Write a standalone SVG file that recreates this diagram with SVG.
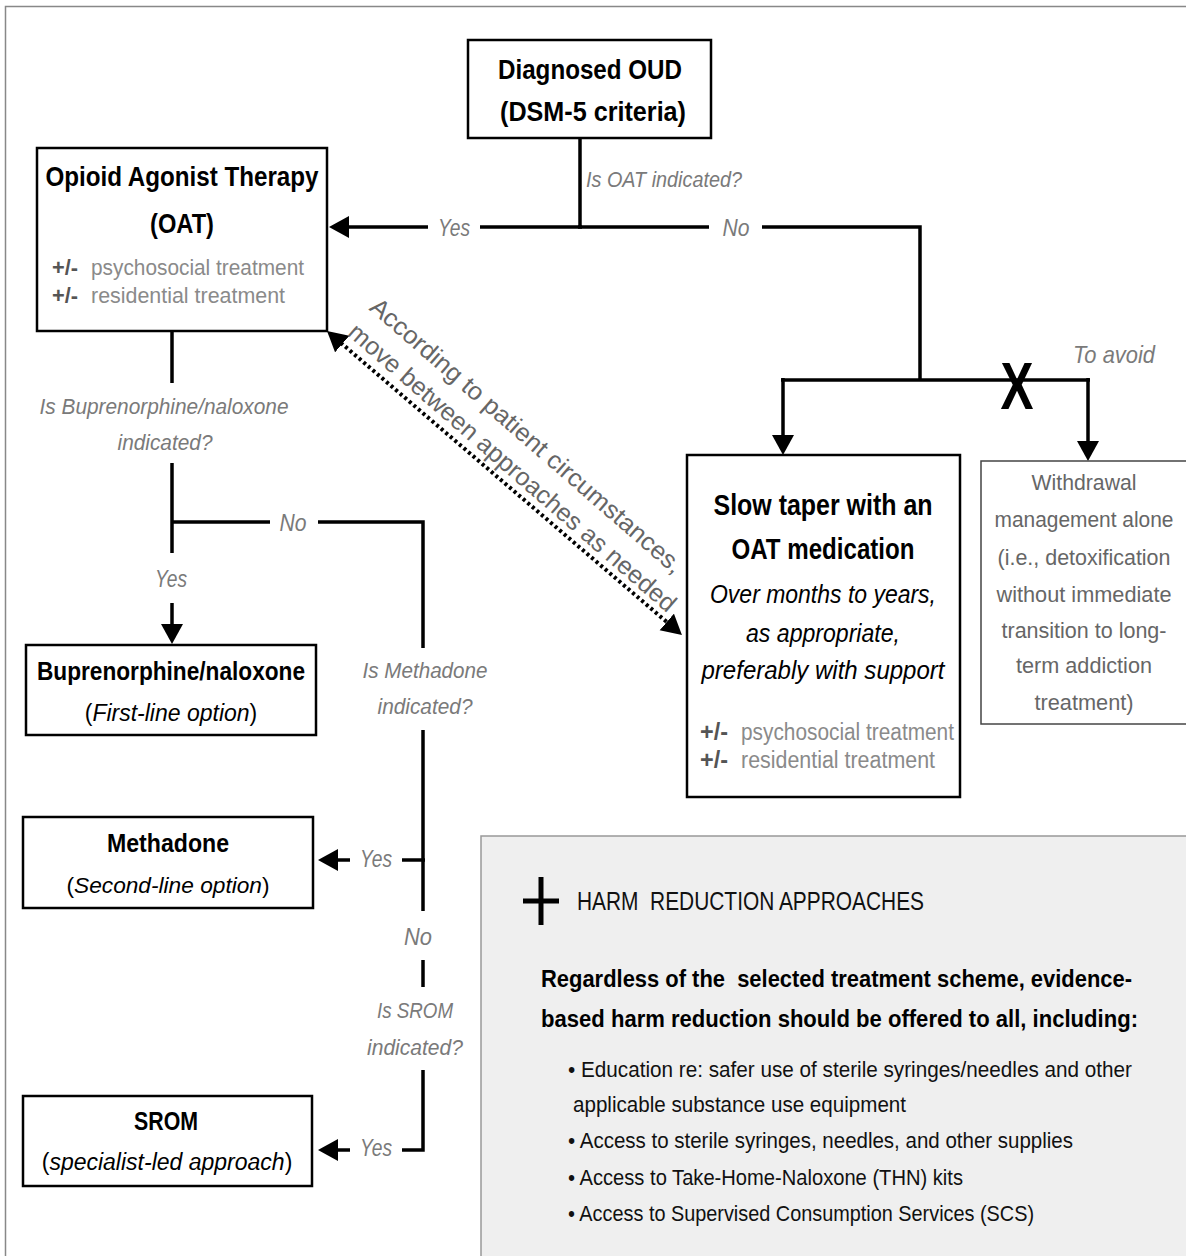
<svg xmlns="http://www.w3.org/2000/svg" width="1186" height="1256" viewBox="0 0 1186 1256">
<style>
text{font-family:"Liberation Sans",Arial,sans-serif}
.box{fill:#fff;stroke:#000;stroke-width:2.5}
.wbox{fill:#fff;stroke:#444;stroke-width:1.5}
.hbox{fill:#efefef;stroke:#999;stroke-width:1.5}
.ln{fill:none;stroke:#000;stroke-width:3.5}
.dot{fill:none;stroke:#000;stroke-width:4;stroke-dasharray:3 3}
.h{font-weight:bold;fill:#000}
.sub{fill:#000}
.it{font-style:italic}
.lbl{font-style:italic;fill:#7a7a7a}
.pm{font-weight:bold;fill:#555}
.gr{fill:#8a8a8a}
.wd{fill:#666}
.dg{fill:#666}
.hr{fill:#111}
</style>
<defs>
<marker id="ah" markerUnits="userSpaceOnUse" markerWidth="22" markerHeight="24" refX="2" refY="11" orient="auto-start-reverse">
<path d="M0,0 L20,11 L0,22 z" fill="#000"/>
</marker>
</defs>
<rect x="5.5" y="6.5" width="1200" height="1270" fill="#fff" stroke="#888" stroke-width="1.5"/>
<g id="harm">
<rect class="hbox" x="481" y="836" width="720" height="440"/>
<line x1="541" y1="877" x2="541" y2="925" stroke="#000" stroke-width="5"/>
<line x1="523" y1="901" x2="559" y2="901" stroke="#000" stroke-width="5"/>
<text class="hr" x="577" y="910" font-size="26" textLength="347" lengthAdjust="spacingAndGlyphs" xml:space="preserve">HARM  REDUCTION APPROACHES</text>
<text class="h" x="541" y="987" font-size="23.5" textLength="591" lengthAdjust="spacingAndGlyphs" xml:space="preserve">Regardless of the  selected treatment scheme, evidence-</text>
<text class="h" x="541" y="1027" font-size="23.5" textLength="597" lengthAdjust="spacingAndGlyphs">based harm reduction should be offered to all, including:</text>
<text class="hr" x="568" y="1077" font-size="22.5" textLength="564" lengthAdjust="spacingAndGlyphs">• Education re: safer use of sterile syringes/needles and other</text>
<text class="hr" x="573" y="1112" font-size="22.5" textLength="333" lengthAdjust="spacingAndGlyphs">applicable substance use equipment</text>
<text class="hr" x="568" y="1148" font-size="22.5" textLength="505" lengthAdjust="spacingAndGlyphs">• Access to sterile syringes, needles, and other supplies</text>
<text class="hr" x="568" y="1185" font-size="22.5" textLength="395" lengthAdjust="spacingAndGlyphs">• Access to Take-Home-Naloxone (THN) kits</text>
<text class="hr" x="568" y="1221" font-size="22.5" textLength="466" lengthAdjust="spacingAndGlyphs">• Access to Supervised Consumption Services (SCS)</text>
</g>
<g id="connectors">
<polyline class="ln" points="580,138 580,227"/>
<polyline class="ln" points="582,227 480,227"/>
<polyline class="ln" points="428,227 347,227" marker-end="url(#ah)"/>
<polyline class="ln" points="578,227 709,227"/>
<polyline class="ln" points="762,227 920,227 920,380"/>
<polyline class="ln" points="781,380 1090,380"/>
<polyline class="ln" points="783,378 783,437" marker-end="url(#ah)"/>
<polyline class="ln" points="1088,378 1088,443" marker-end="url(#ah)"/>
<polyline class="ln" points="172,331 172,383"/>
<polyline class="ln" points="172,463 172,553"/>
<polyline class="ln" points="172,522 270,522"/>
<polyline class="ln" points="318,522 423,522 423,648"/>
<polyline class="ln" points="172,603 172,626" marker-end="url(#ah)"/>
<polyline class="ln" points="423,730 423,911"/>
<polyline class="ln" points="425,860 402,860"/>
<polyline class="ln" points="350,860 336,860" marker-end="url(#ah)"/>
<polyline class="ln" points="423,960 423,987"/>
<polyline class="ln" points="423,1070 423,1150 402,1150"/>
<polyline class="ln" points="350,1150 336,1150" marker-end="url(#ah)"/>
<line class="dot" x1="340.7" y1="342.7" x2="668.3" y2="623.3" marker-start="url(#ah)" marker-end="url(#ah)"/>
<text class="lbl" x="586" y="187" font-size="22" textLength="156" lengthAdjust="spacingAndGlyphs">Is OAT indicated?</text>
<text class="lbl" x="454" y="236" font-size="24" text-anchor="middle" textLength="32" lengthAdjust="spacingAndGlyphs">Yes</text>
<text class="lbl" x="736" y="236" font-size="24" text-anchor="middle" textLength="27" lengthAdjust="spacingAndGlyphs">No</text>
<text class="lbl" x="1073" y="363" font-size="24" textLength="82" lengthAdjust="spacingAndGlyphs">To avoid</text>
<text class="h" x="1017" y="409" font-size="66" text-anchor="middle" textLength="33" lengthAdjust="spacingAndGlyphs">X</text>
<text class="lbl" x="164" y="414" font-size="22" text-anchor="middle" textLength="249" lengthAdjust="spacingAndGlyphs">Is Buprenorphine/naloxone</text>
<text class="lbl" x="165" y="450" font-size="22" text-anchor="middle" textLength="95" lengthAdjust="spacingAndGlyphs">indicated?</text>
<text class="lbl" x="293" y="531" font-size="24" text-anchor="middle" textLength="27" lengthAdjust="spacingAndGlyphs">No</text>
<text class="lbl" x="171" y="587" font-size="24" text-anchor="middle" textLength="32" lengthAdjust="spacingAndGlyphs">Yes</text>
<text class="lbl" x="425" y="678" font-size="22" text-anchor="middle" textLength="125" lengthAdjust="spacingAndGlyphs">Is Methadone</text>
<text class="lbl" x="425" y="714" font-size="22" text-anchor="middle" textLength="95" lengthAdjust="spacingAndGlyphs">indicated?</text>
<text class="lbl" x="376" y="867" font-size="24" text-anchor="middle" textLength="32" lengthAdjust="spacingAndGlyphs">Yes</text>
<text class="lbl" x="418" y="945" font-size="24" text-anchor="middle" textLength="28" lengthAdjust="spacingAndGlyphs">No</text>
<text class="lbl" x="415" y="1018" font-size="22" text-anchor="middle" textLength="76" lengthAdjust="spacingAndGlyphs">Is SROM</text>
<text class="lbl" x="415" y="1055" font-size="22" text-anchor="middle" textLength="96" lengthAdjust="spacingAndGlyphs">indicated?</text>
<text class="lbl" x="376" y="1156" font-size="24" text-anchor="middle" textLength="32" lengthAdjust="spacingAndGlyphs">Yes</text>
<text class="dg" x="521" y="442" font-size="25" text-anchor="middle" textLength="405" lengthAdjust="spacingAndGlyphs" transform="rotate(41 521 442)">According to patient circumstances,</text>
<text class="dg" x="507" y="474" font-size="25" text-anchor="middle" textLength="425" lengthAdjust="spacingAndGlyphs" transform="rotate(41 507 474)">move between approaches as needed</text>
</g>
<g id="diagnosed">
<rect class="box" x="468" y="40" width="243" height="98"/>
<text class="h" x="590" y="79" font-size="28" text-anchor="middle" textLength="184" lengthAdjust="spacingAndGlyphs">Diagnosed OUD</text>
<text class="h" x="593" y="121" font-size="28" text-anchor="middle" textLength="186" lengthAdjust="spacingAndGlyphs">(DSM-5 criteria)</text>
</g>
<g id="oat">
<rect class="box" x="37" y="148" width="290" height="183"/>
<text class="h" x="182" y="186" font-size="27" text-anchor="middle" textLength="273" lengthAdjust="spacingAndGlyphs">Opioid Agonist Therapy</text>
<text class="h" x="182" y="233" font-size="27" text-anchor="middle" textLength="64" lengthAdjust="spacingAndGlyphs">(OAT)</text>
<text class="pm" x="52" y="275" font-size="22" textLength="26" lengthAdjust="spacingAndGlyphs">+/-</text>
<text class="gr" x="91" y="275" font-size="22" textLength="213" lengthAdjust="spacingAndGlyphs">psychosocial treatment</text>
<text class="pm" x="52" y="303" font-size="22" textLength="26" lengthAdjust="spacingAndGlyphs">+/-</text>
<text class="gr" x="91" y="303" font-size="22" textLength="194" lengthAdjust="spacingAndGlyphs">residential treatment</text>
</g>
<g id="slow-taper">
<rect class="box" x="687" y="455" width="273" height="342"/>
<text class="h" x="823" y="515" font-size="29" text-anchor="middle" textLength="219" lengthAdjust="spacingAndGlyphs">Slow taper with an</text>
<text class="h" x="823" y="559" font-size="29" text-anchor="middle" textLength="183" lengthAdjust="spacingAndGlyphs">OAT medication</text>
<text class="sub it" x="823" y="603" font-size="26" text-anchor="middle" textLength="226" lengthAdjust="spacingAndGlyphs">Over months to years,</text>
<text class="sub it" x="823" y="642" font-size="26" text-anchor="middle" textLength="154" lengthAdjust="spacingAndGlyphs">as appropriate,</text>
<text class="sub it" x="823" y="679" font-size="26" text-anchor="middle" textLength="243" lengthAdjust="spacingAndGlyphs">preferably with support</text>
<text class="pm" x="700" y="740" font-size="23" textLength="28" lengthAdjust="spacingAndGlyphs">+/-</text>
<text class="gr" x="741" y="740" font-size="23" textLength="213" lengthAdjust="spacingAndGlyphs">psychosocial treatment</text>
<text class="pm" x="700" y="768" font-size="23" textLength="28" lengthAdjust="spacingAndGlyphs">+/-</text>
<text class="gr" x="741" y="768" font-size="23" textLength="194" lengthAdjust="spacingAndGlyphs">residential treatment</text>
</g>
<g id="withdrawal">
<rect class="wbox" x="981" y="461" width="220" height="263"/>
<text class="wd" x="1084" y="490" font-size="22.5" text-anchor="middle" textLength="105" lengthAdjust="spacingAndGlyphs">Withdrawal</text>
<text class="wd" x="1084" y="527" font-size="22" text-anchor="middle" textLength="179" lengthAdjust="spacingAndGlyphs">management alone</text>
<text class="wd" x="1084" y="565" font-size="22.5" text-anchor="middle" textLength="173" lengthAdjust="spacingAndGlyphs">(i.e., detoxification</text>
<text class="wd" x="1084" y="602" font-size="22.5" text-anchor="middle" textLength="175" lengthAdjust="spacingAndGlyphs">without immediate</text>
<text class="wd" x="1084" y="638" font-size="22.5" text-anchor="middle" textLength="165" lengthAdjust="spacingAndGlyphs">transition to long-</text>
<text class="wd" x="1084" y="673" font-size="22.5" text-anchor="middle" textLength="136" lengthAdjust="spacingAndGlyphs">term addiction</text>
<text class="wd" x="1084" y="710" font-size="22.5" text-anchor="middle" textLength="99" lengthAdjust="spacingAndGlyphs">treatment)</text>
</g>
<g id="buprenorphine">
<rect class="box" x="26" y="645" width="290" height="90"/>
<text class="h" x="171" y="680" font-size="25" text-anchor="middle" textLength="268" lengthAdjust="spacingAndGlyphs">Buprenorphine/naloxone</text>
<text class="sub" x="171" y="721" font-size="23" text-anchor="middle">(<tspan class="it">First-line option</tspan>)</text>
</g>
<g id="methadone">
<rect class="box" x="23" y="817" width="290" height="91"/>
<text class="h" x="168" y="852" font-size="25" text-anchor="middle" textLength="122" lengthAdjust="spacingAndGlyphs">Methadone</text>
<text class="sub" x="168" y="893" font-size="22.7" text-anchor="middle">(<tspan class="it">Second-line option</tspan>)</text>
</g>
<g id="srom">
<rect class="box" x="23" y="1096" width="289" height="90"/>
<text class="h" x="166" y="1130" font-size="25" text-anchor="middle" textLength="64" lengthAdjust="spacingAndGlyphs">SROM</text>
<text class="sub" x="167" y="1170" font-size="23" text-anchor="middle">(<tspan class="it">specialist-led approach</tspan>)</text>
</g>
</svg>
